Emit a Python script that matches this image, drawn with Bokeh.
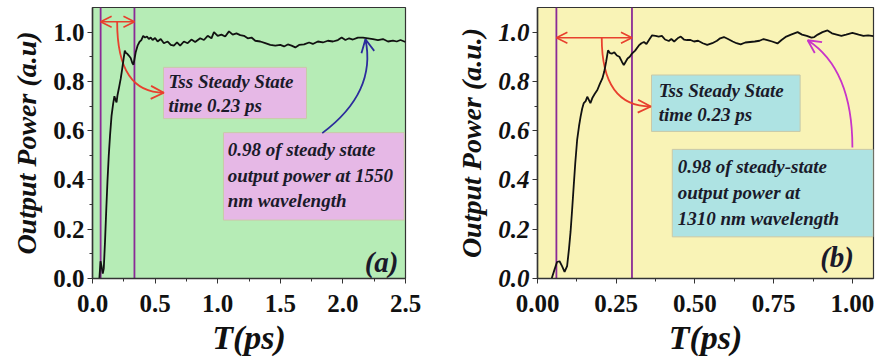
from bokeh.plotting import figure
from bokeh.models import Range1d, Arrow, OpenHead, FixedTicker, NumeralTickFormatter
from bokeh.layouts import row
from bokeh.embed import file_html
from bokeh.resources import INLINE
from bokeh.core.properties import value

# ---------------- data ----------------
t_a = [0.055, 0.064, 0.072, 0.082, 0.09, 0.10, 0.11, 0.12, 0.13, 0.14, 0.152, 0.165, 0.175, 0.184,
       0.192, 0.20, 0.21, 0.225, 0.237, 0.248, 0.258, 0.268, 0.278, 0.29, 0.305, 0.318, 0.327, 0.335,
       0.345, 0.36, 0.375, 0.39, 0.405, 0.42, 0.435, 0.45, 0.465, 0.48, 0.50, 0.52, 0.545, 0.57,
       0.60, 0.625, 0.65, 0.675, 0.70, 0.73, 0.76, 0.79, 0.82, 0.86, 0.89, 0.92, 0.95, 0.97, 1.0,
       1.03, 1.06, 1.09, 1.12, 1.15, 1.18, 1.21, 1.24, 1.27, 1.30, 1.34, 1.38, 1.42, 1.46, 1.50,
       1.53, 1.56, 1.59, 1.62, 1.65, 1.69, 1.73, 1.76, 1.80, 1.84, 1.88, 1.92, 1.96, 1.99, 2.02,
       2.05, 2.08, 2.12, 2.16, 2.20, 2.24, 2.28, 2.32, 2.36, 2.40, 2.43, 2.46, 2.5]
p_a = [0.00, 0.07, 0.05, 0.02, 0.04, 0.15, 0.28, 0.40, 0.50, 0.58, 0.66, 0.71, 0.74, 0.725,
       0.715, 0.745, 0.77, 0.81, 0.85, 0.89, 0.925, 0.915, 0.912, 0.905, 0.895, 0.875, 0.868, 0.89,
       0.918, 0.945, 0.96, 0.968, 0.985, 0.978, 0.982, 0.972, 0.978, 0.968, 0.976, 0.962, 0.972, 0.955,
       0.962, 0.948, 0.945, 0.958, 0.945, 0.962, 0.955, 0.97, 0.96, 0.975, 0.968, 0.985, 0.975, 1.0, 0.985,
       0.99, 0.982, 1.003, 0.99, 0.995, 0.988, 0.985, 0.975, 0.978, 0.965, 0.962, 0.955, 0.948, 0.945, 0.948,
       0.942, 0.95, 0.945, 0.938, 0.948, 0.95, 0.958, 0.952, 0.962, 0.958, 0.965, 0.962, 0.968, 0.978, 0.968,
       0.975, 0.97, 0.978, 0.978, 0.975, 0.972, 0.968, 0.972, 0.962, 0.966, 0.962, 0.968, 0.96]

t_b = [0.045, 0.055, 0.062, 0.07, 0.078, 0.086, 0.094, 0.10, 0.105, 0.11, 0.115, 0.12, 0.126, 0.132,
       0.137, 0.142, 0.147, 0.153, 0.158, 0.163, 0.168, 0.175, 0.182, 0.19, 0.198, 0.206, 0.212, 0.218,
       0.224, 0.23, 0.237, 0.244, 0.252, 0.26, 0.268, 0.274, 0.28, 0.286, 0.293, 0.30, 0.31, 0.322,
       0.33, 0.338, 0.346, 0.355, 0.364, 0.375, 0.385, 0.395, 0.405, 0.417, 0.425, 0.434, 0.445, 0.455,
       0.465, 0.475, 0.486, 0.497, 0.51, 0.525, 0.539, 0.555, 0.57, 0.58, 0.592, 0.605, 0.62, 0.632,
       0.645, 0.66, 0.675, 0.69, 0.705, 0.718, 0.73, 0.745, 0.762, 0.775, 0.79, 0.805, 0.826, 0.84,
       0.855, 0.87, 0.879, 0.89, 0.905, 0.921, 0.935, 0.95, 0.965, 0.98, 1.0, 1.02, 1.035, 1.05, 1.067]
p_b = [0.00, 0.04, 0.067, 0.07, 0.05, 0.027, 0.05, 0.12, 0.19, 0.28, 0.376, 0.47, 0.564, 0.62,
       0.658, 0.69, 0.712, 0.72, 0.738, 0.725, 0.712, 0.735, 0.75, 0.765, 0.79, 0.812, 0.84, 0.88,
       0.926, 0.915, 0.913, 0.918, 0.905, 0.9, 0.88, 0.866, 0.88, 0.893, 0.9, 0.913, 0.925, 0.946,
       0.955, 0.96, 0.952, 0.97, 0.987, 0.985, 0.982, 0.985, 0.97, 0.964, 0.972, 0.962, 0.975, 0.982,
       0.97, 0.968, 0.968, 0.962, 0.965, 0.955, 0.948, 0.955, 0.965, 0.975, 0.98, 0.972, 0.962, 0.955,
       0.95, 0.958, 0.96, 0.962, 0.965, 0.972, 0.968, 0.962, 0.954, 0.968, 0.982, 0.99, 1.0, 0.99,
       0.985, 0.978, 0.98, 0.99, 1.0, 1.007, 0.995, 0.99, 0.985, 0.99, 0.997, 0.99, 0.985, 0.987, 0.984]

x_ticks_a = [0.0, 0.5, 1.0, 1.5, 2.0, 2.5]
x_ticks_b = [0.0, 0.25, 0.5, 0.75, 1.0]
y_ticks = [0.0, 0.2, 0.4, 0.6, 0.8, 1.0]

tss_lines_a = [0.065, 0.335]
tss_lines_b = [0.06, 0.30]

box1_text = ["Tss Steady State", "time 0.23 ps"]
box2_text_a = ["0.98 of steady state", "output power at 1550", "nm wavelength"]
box2_text_b = ["0.98 of steady-state", "output power at", "1310 nm wavelength"]

FONT_NAME = "'Liberation Serif', 'Times New Roman', Times, serif"
FONT = value(FONT_NAME)
TXT = "#1a1a2a"
AX = "#333333"


def bez(p0, c, p2, t):
    return ((1 - t) ** 2 * p0[0] + 2 * (1 - t) * t * c[0] + t * t * p2[0],
            (1 - t) ** 2 * p0[1] + 2 * (1 - t) * t * c[1] + t * t * p2[1])


def make_fig(width, xr_end, bg, min_left, min_right, min_bottom, ylabel, y_italic):
    p = figure(width=width, height=362, output_backend="svg", toolbar_location=None,
               x_range=Range1d(0, xr_end), y_range=Range1d(0, 1.1),
               min_border_left=min_left, min_border_right=min_right,
               min_border_top=7, min_border_bottom=min_bottom)
    p.background_fill_color = bg
    p.border_fill_color = "white"
    p.outline_line_color = AX
    p.outline_line_width = 1.2
    p.xgrid.visible = False
    p.ygrid.visible = False
    for ax in (p.xaxis[0], p.yaxis[0]):
        ax.axis_line_color = AX
        ax.axis_line_width = 1.5
        ax.major_tick_line_color = AX
        ax.minor_tick_line_color = AX
        ax.major_tick_out = 5
        ax.major_tick_in = 0
        ax.minor_tick_out = 3
        ax.minor_tick_in = 0
        ax.major_label_text_font = FONT_NAME
        ax.major_label_text_font_size = "25px"
        ax.major_label_text_color = "#111111"
        ax.axis_label_text_font = FONT_NAME
        ax.axis_label_text_font_style = "bold italic"
        ax.axis_label_text_color = "#111111"
    p.xaxis.major_label_text_font_style = "bold"
    p.yaxis.major_label_text_font_style = "bold italic" if y_italic else "bold"
    p.xaxis.axis_label = "T(ps)"
    p.xaxis.axis_label_text_font_size = "34px"
    p.xaxis.axis_label_standoff = 4
    p.xaxis.major_label_standoff = 11
    p.yaxis.axis_label = ylabel
    p.yaxis.axis_label_text_font_size = "28px"
    p.yaxis.axis_label_standoff = 8
    p.yaxis.major_label_standoff = 3
    p.yaxis.ticker = FixedTicker(ticks=y_ticks, minor_ticks=[0.1, 0.3, 0.5, 0.7, 0.9])
    p.yaxis.formatter = NumeralTickFormatter(format="0.0")
    return p


def annotate(p, vlines, arrow_y, red, box1, b1_text_x, b1_lines_y, box1_fill, box2, b2_text_x,
             b2_lines_y, box2_fill, box2_text, arrow2, arrow2_color, tag, tag_xy):
    for xv in vlines:
        p.line(x=[xv, xv], y=[0, 1.1], line_color="#8a2a96", line_width=1.8)
    p.add_layout(Arrow(x_start=vlines[0], y_start=arrow_y, x_end=vlines[1], y_end=arrow_y,
                       line_color="#e8402e", line_width=1.6,
                       start=OpenHead(size=11, line_color="#e8402e", line_width=1.6),
                       end=OpenHead(size=11, line_color="#e8402e", line_width=1.6)))
    for (l, r, b, t), fill in ((box1, box1_fill), (box2, box2_fill)):
        p.quad(left=[l], right=[r], bottom=[b], top=[t], fill_color=fill,
               line_color="#c9c9a8", line_width=1)
    p.text(x=[b1_text_x] * len(box1_text), y=b1_lines_y, text=box1_text, text_font=FONT,
           text_font_style="bold italic", text_font_size="19px", text_color=TXT,
           text_baseline="middle", text_align="left")
    p.text(x=[b2_text_x] * len(box2_text), y=b2_lines_y, text=box2_text, text_font=FONT,
           text_font_style="bold italic", text_font_size="19px", text_color=TXT,
           text_baseline="middle", text_align="left")
    for (p0, c, p2), col in ((red, "#e8402e"), (arrow2, arrow2_color)):
        p.quadratic(x0=[p0[0]], y0=[p0[1]], x1=[p2[0]], y1=[p2[1]], cx=[c[0]], cy=[c[1]],
                    line_color=col, line_width=1.8)
        q = bez(p0, c, p2, 0.96)
        p.add_layout(Arrow(x_start=q[0], y_start=q[1], x_end=p2[0], y_end=p2[1],
                           line_color=col, line_width=1.8,
                           end=OpenHead(size=13, line_color=col, line_width=1.8)))
    p.text(x=[tag_xy[0]], y=[tag_xy[1]], text=[tag], text_font=FONT, text_font_style="bold italic",
           text_font_size="29px", text_color=TXT, text_baseline="middle", text_align="right")


# ---------------- panel (a) ----------------
fa = make_fig(440, 2.5, "#b6ecb6", 92, 35, 84, "Output Power (a.u)", False)
fa.xaxis.ticker = FixedTicker(ticks=x_ticks_a, minor_ticks=[0.25, 0.75, 1.25, 1.75, 2.25])
fa.xaxis.formatter = NumeralTickFormatter(format="0.0")
annotate(fa, tss_lines_a, 1.042,
         ((0.197, 1.041), (0.197, 0.754), (0.57, 0.754)),
         (0.567, 1.709, 0.649, 0.857), 0.607, [0.801, 0.702], "#e6b8e6",
         (1.046, 2.49, 0.237, 0.592), 1.08, [0.522, 0.420, 0.318], "#e6b8e6", box2_text_a,
         ((1.835, 0.59), (2.27, 0.755), (2.18, 0.971)), "#2c2c9c", "(a)", (2.444, 0.067))
fa.line(x=t_a, y=p_a, line_color="#111111", line_width=1.8)

# ---------------- panel (b) ----------------
fb = make_fig(438, 1.067, "#f9f3b6", 97, 5, 82, "Output Power (a.u.)", True)
fb.xaxis.ticker = FixedTicker(ticks=x_ticks_b, minor_ticks=[0.125, 0.375, 0.625, 0.875])
fb.xaxis.formatter = NumeralTickFormatter(format="0.00")
annotate(fb, tss_lines_b, 0.977,
         ((0.204, 0.977), (0.204, 0.698), (0.36, 0.698)),
         (0.362, 0.834, 0.597, 0.826), 0.385, [0.765, 0.665], "#aee3e3",
         (0.428, 1.066, 0.169, 0.524), 0.445, [0.455, 0.350, 0.242], "#aee3e3", box2_text_b,
         ((1.0, 0.532), (1.0, 0.85), (0.858, 0.967)), "#c834c8", "(b)", (1.005, 0.087))
fb.line(x=t_b, y=p_b, line_color="#111111", line_width=1.8)

layout = row(fa, fb, spacing=0)
open("out.html", "w").write(file_html(layout, INLINE))
